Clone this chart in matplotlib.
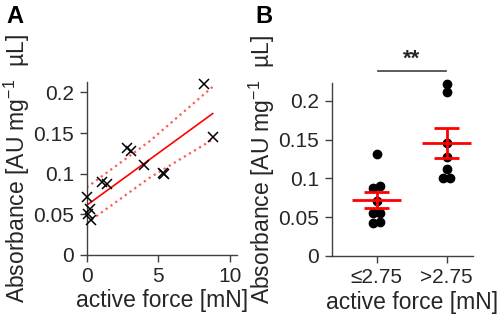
import numpy as np
import matplotlib.pyplot as plt

plt.rcParams['font.family'] = ['Liberation Sans', 'DejaVu Sans']
plt.rcParams['mathtext.default'] = 'regular'

# panel A: absorbance vs active force
force = [0.0, 0.2, 0.1, 0.3, 1.05, 1.45, 2.8, 3.1, 4.0, 5.3, 5.4, 8.2, 8.85]
absorb = [0.071, 0.056, 0.050, 0.043, 0.090, 0.087, 0.131, 0.128, 0.111,
          0.101, 0.099, 0.211, 0.145]
fit_x = [0.0, 4.4, 8.8]
fit_y = [0.061, 0.1175, 0.174]
ci_up = [0.083, 0.140, 0.207]
ci_lo = [0.039, 0.095, 0.142]

# panel B: groups split at 2.75 mN
groups = ['\u22642.75', '>2.75']
low = [0.131, 0.090, 0.088, 0.071, 0.056, 0.055, 0.044, 0.042]
high = [0.222, 0.211, 0.145, 0.127, 0.112, 0.101, 0.100]

axcol = '#404040'
txtcol = '#262626'
ylab = 'Absorbance [AU mg$^{-1}$  \u00b5L]'


def style(ax):
    for s in ['top', 'right']:
        ax.spines[s].set_visible(False)
    for s in ['left', 'bottom']:
        ax.spines[s].set_color(axcol)
        ax.spines[s].set_linewidth(1.0)
    ax.tick_params(direction='out', length=5, width=1, colors=axcol,
                   labelcolor=txtcol, labelsize=15, pad=4)


def swarm(vals, step=0.05, tol=0.005):
    # simple side-by-side offset for points with nearly equal values
    offs = np.zeros(len(vals))
    order = np.argsort(vals)
    i = 0
    while i < len(order):
        j = i
        while j + 1 < len(order) and vals[order[j + 1]] - vals[order[j]] < tol:
            j += 1
        n = j - i + 1
        if n > 1:
            offs[order[i:j + 1]] = (np.arange(n) - (n - 1) / 2) * 2 * step
        i = j + 1
    return offs


fig = plt.figure(figsize=(4.98, 3.19), dpi=100)

ax1 = fig.add_axes([0.174, 0.201, 0.302, 0.541])
ax1.plot(force, absorb, 'x', color='k', ms=7, mew=1.1, zorder=3, clip_on=False)
ax1.plot(fit_x, fit_y, '-', color='red', lw=1.2)
ax1.plot(fit_x, ci_up, ':', color='#ff5a5a', lw=1.6)
ax1.plot(fit_x, ci_lo, ':', color='#ff5a5a', lw=1.6)
ax1.set_xlim(0, 10.5)
ax1.set_ylim(0, 0.2125)
ax1.set_xticks([0, 5, 10])
ax1.set_yticks([0, 0.05, 0.1, 0.15, 0.2])
ax1.set_yticklabels(['0', '0.05', '0.1', '0.15', '0.2'])
style(ax1)
ax1.set_xlabel('active force [mN]', fontsize=16.5, color=txtcol, labelpad=2)
ax1.set_ylabel(ylab, fontsize=16.5, color=txtcol, labelpad=1)

ax2 = fig.add_axes([0.666, 0.1975, 0.284, 0.5414])
for k, vals in enumerate([low, high]):
    pos = k + 1
    v = np.array(vals)
    ax2.plot(pos + swarm(v), v, 'o', color='k', ms=6, zorder=2, clip_on=False)
    m = v.mean()
    se = v.std(ddof=1) / np.sqrt(len(v))
    ax2.hlines(m, pos - 0.35, pos + 0.35, color='red', lw=2, zorder=3)
    ax2.hlines([m - se, m + se], pos - 0.18, pos + 0.18, color='red', lw=2, zorder=3)
    ax2.vlines(pos, m - se, m + se, color='red', lw=2, zorder=3)
ax2.set_xlim(0.357, 2.376)
ax2.set_ylim(0, 0.2225)
ax2.set_xticks([1, 2])
ax2.set_xticklabels(groups)
ax2.set_yticks([0, 0.05, 0.1, 0.15, 0.2])
ax2.set_yticklabels(['0', '0.05', '0.1', '0.15', '0.2'])
style(ax2)
ax2.set_xlabel('active force [mN]', fontsize=16.5, color=txtcol, labelpad=0)
ax2.xaxis.set_label_coords(0.57, -0.2)
ax2.xaxis.label.set_va('top')
ax2.set_ylabel(ylab, fontsize=16.5, color=txtcol, labelpad=1)
ax2.plot([1.02, 1.99], [0.2385, 0.2385], color=axcol, lw=1.2, clip_on=False)
ax2.text(1.5, 0.2395, '**', ha='center', va='bottom', fontsize=16,
         fontweight='bold', color=txtcol)

fig.text(0.012, 0.985, 'A', fontsize=17, fontweight='bold', va='top')
fig.text(0.512, 0.985, 'B', fontsize=17, fontweight='bold', va='top')

fig.savefig('out.png', dpi=100)
